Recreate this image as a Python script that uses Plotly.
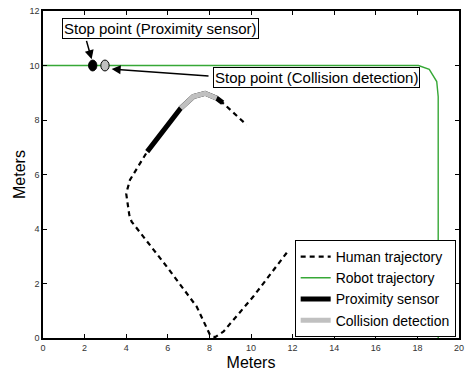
import plotly.graph_objects as go

# ---- data (meters) ----
human_x = [11.72, 10.11, 8.67, 8.27, 8.03, 7.39, 5.95, 4.26, 4.15, 4.02, 4.00, 4.18, 4.74, 5.01,
           5.95, 6.62, 7.23, 7.79, 8.35, 8.64, 9.79]
human_y = [3.13, 1.52, 0.23, 0.03, 0.11, 1.15, 2.62, 4.27, 4.51, 5.06, 5.30, 5.80, 6.53, 6.84,
           7.75, 8.43, 8.86, 8.98, 8.80, 8.63, 7.82]

robot_x = [0.0, 18.05, 18.57, 18.93, 19.0, 19.0]
robot_y = [10.0, 10.0, 9.86, 9.41, 8.86, 0.0]

prox_x = [5.01, 5.95, 6.62, 7.23, 7.79, 8.35, 8.64]
prox_y = [6.84, 7.75, 8.43, 8.86, 8.98, 8.80, 8.63]

coll_x = [6.62, 7.23, 7.79, 8.35]
coll_y = [8.43, 8.86, 8.98, 8.80]

stop_prox = (2.39, 10.0)
stop_coll = (2.98, 10.0)
stop_radius = 0.2

x_ticks = list(range(0, 21, 2))
y_ticks = list(range(0, 13, 2))

FONT = "Liberation Sans, Arial, sans-serif"
GREEN = "#36a836"
GRAY = "#c0c0c0"

fig = go.Figure()
fig.add_trace(go.Scatter(x=human_x, y=human_y, mode="lines", name="Human trajectory",
                         line=dict(color="black", width=2.2, dash="5px,4px")))
fig.add_trace(go.Scatter(x=robot_x, y=robot_y, mode="lines", name="Robot trajectory",
                         line=dict(color=GREEN, width=1.4)))
fig.add_trace(go.Scatter(x=prox_x, y=prox_y, mode="lines", name="Proximity sensor",
                         line=dict(color="black", width=5)))
fig.add_trace(go.Scatter(x=coll_x, y=coll_y, mode="lines", name="Collision detection",
                         line=dict(color=GRAY, width=5)))

shapes = []
for (cx, cy), col in [(stop_prox, "black"), (stop_coll, GRAY)]:
    shapes.append(dict(type="circle", xref="x", yref="y",
                       x0=cx - stop_radius, x1=cx + stop_radius,
                       y0=cy - stop_radius, y1=cy + stop_radius,
                       fillcolor=col, line=dict(color="black", width=1)))

annotations = [
    dict(x=5.63, y=11.34, xref="x", yref="y", text="Stop point (Proximity sensor)",
         showarrow=False, bgcolor="white", bordercolor="black", borderwidth=1, borderpad=1,
         font=dict(family=FONT, size=15, color="black")),
    dict(x=13.17, y=9.56, xref="x", yref="y", text="Stop point (Collision detection)",
         showarrow=False, bgcolor="white", bordercolor="black", borderwidth=1, borderpad=1,
         font=dict(family=FONT, size=15, color="black")),
    # arrows
    dict(x=stop_prox[0] - 0.05, y=stop_prox[1] + 0.23, ax=2.07, ay=10.96,
         xref="x", yref="y", axref="x", ayref="y", text="", showarrow=True,
         arrowhead=2, arrowsize=1.2, arrowwidth=1.5, arrowcolor="black"),
    dict(x=stop_coll[0] + 0.32, y=stop_coll[1] - 0.13, ax=8.03, ay=9.61,
         xref="x", yref="y", axref="x", ayref="y", text="", showarrow=True,
         arrowhead=2, arrowsize=1.2, arrowwidth=1.5, arrowcolor="black"),
]

axis_common = dict(ticks="inside", ticklen=4, tickwidth=1, tickcolor="black",
                   showline=True, linecolor="black", linewidth=1.5, mirror="ticks",
                   showgrid=False, zeroline=False, automargin=False,
                   tickfont=dict(family=FONT, size=9, color="#333"))

fig.update_layout(
    width=467, height=371,
    margin=dict(l=43, r=8, t=11, b=33),
    plot_bgcolor="white", paper_bgcolor="white",
    font=dict(family=FONT, color="black"),
    xaxis=dict(range=[0, 20], tickvals=x_ticks, title=dict(text="Meters", font=dict(size=16), standoff=5),
               **axis_common),
    yaxis=dict(range=[0, 12], tickvals=y_ticks, title=dict(text="Meters", font=dict(size=16), standoff=0),
               **axis_common),
    shapes=shapes,
    annotations=annotations,
    showlegend=True,
    legend=dict(x=0.992, y=0.003, xanchor="right", yanchor="bottom",
                bgcolor="white", bordercolor="black", borderwidth=1,
                font=dict(family=FONT, size=14, color="black"),
                tracegroupgap=0, itemwidth=30),
)

fig.write_html("out.html")
